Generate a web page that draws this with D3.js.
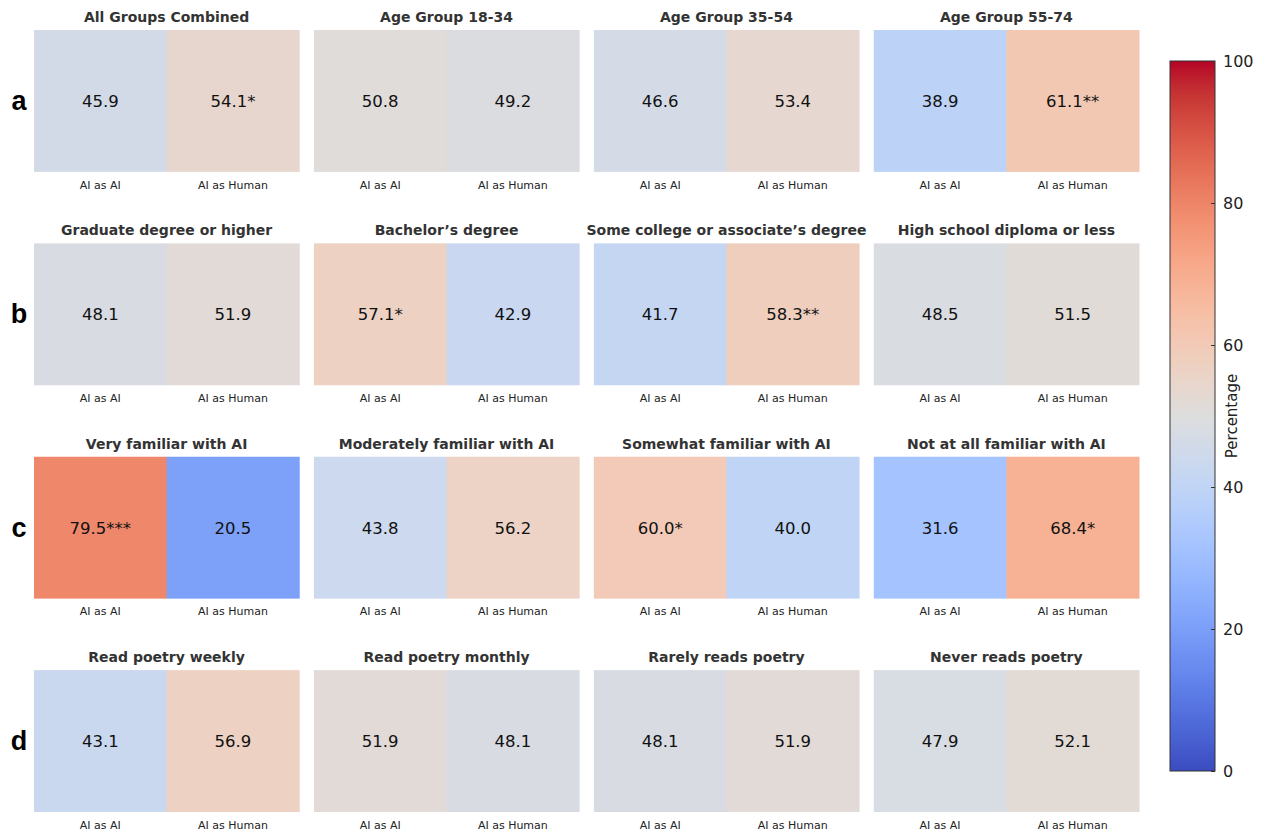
<!DOCTYPE html>
<html>
<head>
<meta charset="utf-8">
<script src="https://cdn.jsdelivr.net/npm/d3@7"></script>
<style>
html,body{margin:0;padding:0;background:#fff;}
svg{display:block;}
</style>
</head>
<body>
<svg id="chart" width="1269" height="836"></svg>
<script>
// ---- DATA ----
const rowLetters = ["a", "b", "c", "d"];
const categories = ["AI as AI", "AI as Human"];
const panelTitles = [
  ["All Groups Combined", "Age Group 18-34", "Age Group 35-54", "Age Group 55-74"],
  ["Graduate degree or higher", "Bachelor\u2019s degree", "Some college or associate\u2019s degree", "High school diploma or less"],
  ["Very familiar with AI", "Moderately familiar with AI", "Somewhat familiar with AI", "Not at all familiar with AI"],
  ["Read poetry weekly", "Read poetry monthly", "Rarely reads poetry", "Never reads poetry"]
];
const aiAsAI = [
  [45.9, 50.8, 46.6, 38.9],
  [48.1, 57.1, 41.7, 48.5],
  [79.5, 43.8, 60.0, 31.6],
  [43.1, 51.9, 48.1, 47.9]
];
const aiAsHuman = [
  [54.1, 49.2, 53.4, 61.1],
  [51.9, 42.9, 58.3, 51.5],
  [20.5, 56.2, 40.0, 68.4],
  [56.9, 48.1, 51.9, 52.1]
];
const starsAI = [
  ["", "", "", ""],
  ["", "*", "", ""],
  ["***", "", "*", ""],
  ["", "", "", ""]
];
const starsHuman = [
  ["*", "", "", "**"],
  ["", "", "**", ""],
  ["", "", "", "*"],
  ["", "", "", ""]
];
const colorbarTicks = [0, 20, 40, 60, 80, 100];
const colorbarLabel = "Percentage";

// coolwarm (Moreland) control points
const coolwarmStops = [
  [59,76,192],[68,90,204],[77,104,215],[87,117,225],[98,130,234],[108,142,241],
  [119,154,247],[130,165,251],[141,176,254],[152,185,255],[163,194,255],[174,201,253],
  [184,208,249],[194,213,244],[204,217,238],[213,219,230],[221,221,221],[229,216,209],
  [236,211,197],[241,204,185],[245,196,173],[247,187,160],[247,177,148],[247,166,135],
  [244,154,123],[241,141,111],[236,127,99],[229,112,88],[222,96,77],[213,80,66],
  [203,62,56],[192,40,47],[180,4,38]
];
const coolwarm = d3.piecewise(d3.interpolateRgb, coolwarmStops.map(c => d3.rgb(c[0], c[1], c[2])));
const color = d3.scaleSequential(coolwarm).domain([0, 100]);

// ---- LAYOUT ----
const svg = d3.select("#chart");
const panelW = 266, panelH = 142;
const colX = d3.scaleBand().domain(d3.range(4)).range([34, 1139]).paddingInner(0.0525);
const rowY = d3.scaleBand().domain(d3.range(4)).range([30, 812]).paddingInner(0.335);

const fontMain = "'DejaVu Sans', sans-serif";

for (let r = 0; r < 4; r++) {
  const y0 = rowY(r);
  const ph = rowY.bandwidth();
  svg.append("text")
    .attr("x", 19).attr("y", y0 + ph / 2 + 9)
    .attr("text-anchor", "middle")
    .attr("font-family", "'Liberation Sans', Arial, sans-serif")
    .attr("font-weight", "bold")
    .attr("font-size", 27)
    .attr("fill", "#000")
    .text(rowLetters[r]);

  for (let c = 0; c < 4; c++) {
    const x0 = colX(c);
    const pw = colX.bandwidth();
    const g = svg.append("g").attr("transform", `translate(${x0},${y0})`);
    const x = d3.scaleBand().domain(categories).range([0, pw]);
    const vals = [aiAsAI[r][c], aiAsHuman[r][c]];
    const stars = [starsAI[r][c], starsHuman[r][c]];
    const cells = categories.map((k, i) => ({k, v: vals[i], s: stars[i]}));

    g.selectAll("rect").data(cells).join("rect")
      .attr("x", d => x(d.k)).attr("y", 0)
      .attr("width", x.bandwidth() + 0.5).attr("height", ph)
      .attr("fill", d => color(d.v));

    g.selectAll("text.val").data(cells).join("text")
      .attr("class", "val")
      .attr("x", d => x(d.k) + x.bandwidth() / 2)
      .attr("y", ph / 2 + 6)
      .attr("text-anchor", "middle")
      .attr("font-family", fontMain)
      .attr("font-size", 16.5)
      .attr("fill", "#111")
      .text(d => d.v.toFixed(1) + d.s);

    // x axis labels
    const ax = g.append("g").attr("transform", `translate(0,${ph})`)
      .call(d3.axisBottom(x).tickSize(0).tickPadding(9));
    ax.select(".domain").remove();
    ax.selectAll("text")
      .attr("font-family", fontMain)
      .attr("font-size", 11)
      .attr("fill", "#222");

    g.append("text")
      .attr("x", pw / 2).attr("y", -8)
      .attr("text-anchor", "middle")
      .attr("font-family", fontMain)
      .attr("font-weight", "bold")
      .attr("font-size", 14)
      .attr("fill", "#333")
      .text(panelTitles[r][c]);
  }
}

// ---- COLORBAR ----
const cbX = 1170, cbW = 45, cbTop = 61, cbBot = 771;
const cbScale = d3.scaleLinear().domain([0, 100]).range([cbBot, cbTop]);
const defs = svg.append("defs");
const grad = defs.append("linearGradient").attr("id", "cbgrad")
  .attr("x1", 0).attr("y1", 1).attr("x2", 0).attr("y2", 0);
d3.range(0, 101, 2).forEach(v => {
  grad.append("stop").attr("offset", (v / 100)).attr("stop-color", color(v));
});
svg.append("rect")
  .attr("x", cbX).attr("y", cbTop)
  .attr("width", cbW).attr("height", cbBot - cbTop)
  .attr("fill", "url(#cbgrad)")
  .attr("stroke", "#333").attr("stroke-width", 1);

const cbAxis = svg.append("g").attr("transform", `translate(${cbX + cbW},0)`)
  .call(d3.axisRight(cbScale).tickValues(colorbarTicks).tickSize(4).tickPadding(4));
cbAxis.select(".domain").remove();
cbAxis.selectAll("line").attr("stroke", "#333").attr("transform", "translate(-4,0)");
cbAxis.selectAll("text")
  .attr("font-family", fontMain)
  .attr("font-size", 16)
  .attr("fill", "#222");

svg.append("text")
  .attr("transform", `translate(1237,${(cbTop + cbBot) / 2}) rotate(-90)`)
  .attr("text-anchor", "middle")
  .attr("font-family", fontMain)
  .attr("font-size", 15)
  .attr("fill", "#222")
  .text(colorbarLabel);
</script>
</body>
</html>
